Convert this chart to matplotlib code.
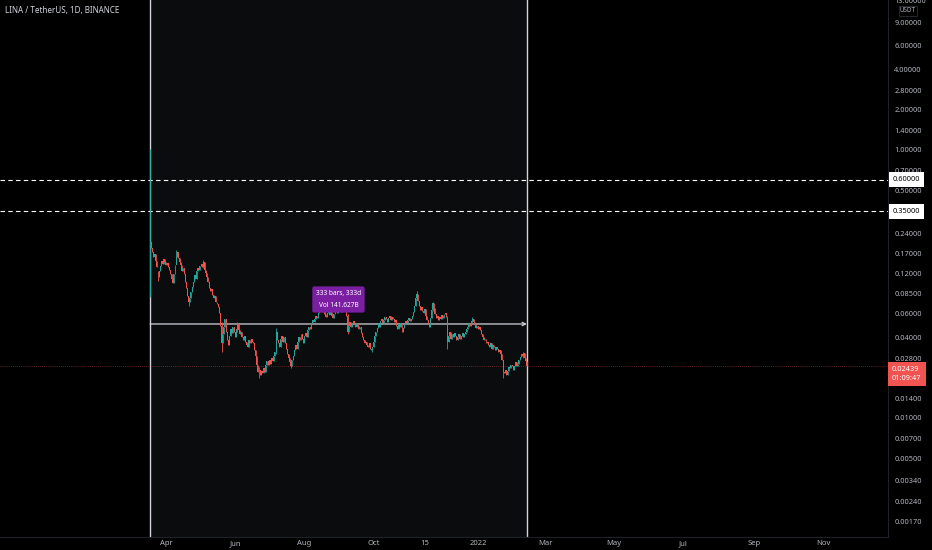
import matplotlib

matplotlib.use("Agg")
import matplotlib.dates as mdates
import matplotlib.pyplot as plt
import numpy as np
import pandas as pd

# daily closes, first bar on 2021-03-18
START = "2021-03-18"
FIRST_OPEN = 0.085
CLOSES = [
    0.205, 0.186, 0.172, 0.160, 0.166, 0.149, 0.134, 0.113, 0.124, 0.136,
    0.148, 0.141, 0.153, 0.146, 0.139, 0.144, 0.133, 0.127, 0.118, 0.109,
    0.101, 0.118, 0.139, 0.158, 0.172, 0.156, 0.145, 0.138, 0.126, 0.131,
    0.119, 0.104, 0.093, 0.081, 0.074, 0.079, 0.087, 0.095, 0.103, 0.116,
    0.109, 0.124, 0.131, 0.127, 0.136, 0.142, 0.134, 0.146, 0.128, 0.121,
    0.112, 0.103, 0.094, 0.088, 0.091, 0.083, 0.078, 0.082, 0.074, 0.071,
    0.067, 0.061, 0.049, 0.036, 0.042, 0.048, 0.055, 0.044, 0.038, 0.035,
    0.041, 0.046, 0.043, 0.048, 0.044, 0.040, 0.046, 0.050, 0.045, 0.042,
    0.044, 0.040, 0.038, 0.041, 0.037, 0.035, 0.034, 0.038, 0.036, 0.039,
    0.037, 0.036, 0.032, 0.029, 0.025, 0.022, 0.023, 0.021, 0.0225, 0.0215,
    0.0235, 0.022, 0.025, 0.0265, 0.025, 0.027, 0.0255, 0.028, 0.0265, 0.029,
    0.031, 0.044, 0.038, 0.036, 0.034, 0.039, 0.041, 0.037, 0.040, 0.036,
    0.033, 0.030, 0.028, 0.026, 0.0245, 0.027, 0.029, 0.032, 0.035, 0.033,
    0.037, 0.040, 0.038, 0.042, 0.039, 0.036, 0.041, 0.043, 0.040, 0.045,
    0.048, 0.046, 0.051, 0.054, 0.052, 0.055, 0.058, 0.056, 0.061, 0.064,
    0.066, 0.062, 0.067, 0.063, 0.060, 0.057, 0.061, 0.064, 0.059, 0.062,
    0.058, 0.056, 0.060, 0.063, 0.065, 0.061, 0.064, 0.066, 0.062, 0.065,
    0.067, 0.063, 0.065, 0.058, 0.044, 0.049, 0.052, 0.048, 0.051, 0.053,
    0.050, 0.048, 0.051, 0.049, 0.046, 0.048, 0.043, 0.040, 0.038, 0.036,
    0.037, 0.035, 0.034, 0.036, 0.033, 0.032, 0.034, 0.037, 0.041, 0.044,
    0.047, 0.050, 0.048, 0.053, 0.055, 0.051, 0.054, 0.057, 0.055, 0.052,
    0.056, 0.058, 0.054, 0.057, 0.055, 0.052, 0.054, 0.049, 0.046, 0.050,
    0.048, 0.051, 0.044, 0.047, 0.050, 0.053, 0.051, 0.054, 0.056, 0.053,
    0.055, 0.058, 0.062, 0.069, 0.078, 0.084, 0.075, 0.068, 0.064, 0.067,
    0.063, 0.061, 0.065, 0.058, 0.054, 0.050, 0.048, 0.056, 0.064, 0.072,
    0.066, 0.060, 0.056, 0.058, 0.054, 0.057, 0.055, 0.059, 0.056, 0.060,
    0.061, 0.057, 0.037, 0.041, 0.044, 0.039, 0.042, 0.040, 0.043, 0.041,
    0.038, 0.040, 0.042, 0.039, 0.041, 0.043, 0.040, 0.042, 0.044, 0.046,
    0.048, 0.051, 0.049, 0.053, 0.055, 0.052, 0.050, 0.047, 0.049, 0.046,
    0.048, 0.045, 0.042, 0.040, 0.038, 0.039, 0.036, 0.037, 0.035, 0.034,
    0.036, 0.033, 0.035, 0.034, 0.032, 0.034, 0.033, 0.031, 0.032, 0.030,
    0.027, 0.022, 0.0215, 0.023, 0.021, 0.0225, 0.024, 0.0235, 0.025, 0.0245,
    0.023, 0.0245, 0.026, 0.0245, 0.0255, 0.027, 0.0285, 0.030, 0.029, 0.0305,
    0.028, 0.0265, 0.02439,
]
# bar index -> (high, low) for the wicks that stick out
WICKS = {
    0: (1.02, 0.08), 7: (0.125, 0.106), 23: (0.178, 0.150), 34: (0.080, 0.069),
    47: (0.150, 0.131), 63: (0.052, 0.031), 77: (0.052, 0.044), 96: (0.024, 0.020),
    111: (0.047, 0.030), 124: (0.027, 0.0238), 153: (0.069, 0.060), 174: (0.060, 0.042),
    196: (0.034, 0.031), 235: (0.088, 0.076), 249: (0.074, 0.063), 262: (0.058, 0.033),
    284: (0.057, 0.051), 311: (0.026, 0.020), 329: (0.031, 0.028),
}

MEASURE_PRICE = 0.0503
VOLUME_LABEL = "141.627B"
LEVELS = [0.6, 0.35]
LAST_PRICE = 0.02439
COUNTDOWN = "01:09:47"
PRICE_TICKS = [13, 9, 6, 4, 2.8, 2, 1.4, 1, 0.7, 0.5, 0.24, 0.17, 0.12, 0.085, 0.06,
               0.04, 0.028, 0.014, 0.01, 0.007, 0.005, 0.0034, 0.0024, 0.0017]
TIME_TICKS = ["2021-04-01", "2021-06-01", "2021-08-01", "2021-10-01", "2021-11-15", "2022-01-01",
              "2022-03-01", "2022-05-01", "2022-07-01", "2022-09-01", "2022-11-01"]
TIME_LABELS = ["Apr", "Jun", "Aug", "Oct", "15", "2022", "Mar", "May", "Jul", "Sep", "Nov"]

UP, DOWN = "#26a69a", "#ef5350"
TEXT = "#b2b5be"

plt.rcParams["font.family"] = ["Noto Sans", "DejaVu Sans"]

dates = pd.date_range(START, periods=len(CLOSES), freq="D")
x = mdates.date2num(dates)
closes = np.array(CLOSES)
opens = np.concatenate([[FIRST_OPEN], closes[:-1]])
highs = np.maximum(opens, closes)
lows = np.minimum(opens, closes)
for i, (h, l) in WICKS.items():
    highs[i], lows[i] = h, l
colors = np.where(closes >= opens, UP, DOWN)

fig = plt.figure(figsize=(9.32, 5.50), dpi=100, facecolor="black")
ax = fig.add_axes([0, 13 / 550, 888 / 932, 537 / 550])
ax.set_facecolor("black")
ax.set_yscale("log")

x0, x1 = x[0], x[-1]
ax.axvspan(x0, x1, color="#0b0c0e", lw=0, zorder=0)

ax.axvline(x0, color="#d1d4dc", lw=1.0, zorder=2)
ax.axvline(x1, color="#d1d4dc", lw=1.0, zorder=2)

ax.vlines(x, lows, highs, colors=colors, lw=0.6, zorder=4)
ax.bar(x, closes - opens, bottom=opens, width=0.85, color=colors, lw=0, zorder=4)

for lvl in LEVELS:
    ax.axhline(lvl, color="white", ls=(0, (4, 3)), lw=0.8, zorder=3)
ax.axhline(LAST_PRICE, color=DOWN, ls=(0, (1, 2)), lw=0.5, alpha=0.75, zorder=3)

ax.annotate("", xy=(x1, MEASURE_PRICE), xytext=(x0, MEASURE_PRICE),
            arrowprops=dict(arrowstyle="->", color="#d1d4dc", lw=0.9, shrinkA=0, shrinkB=0,
                            mutation_scale=6), zorder=3)
ax.text((x0 + x1) / 2, 0.0766, f"{len(CLOSES)} bars, {len(CLOSES)}d\nVol {VOLUME_LABEL}",
        ha="center", va="center", fontsize=4.7, color="white", linespacing=2.0, zorder=5,
        bbox=dict(boxstyle="round,pad=0.55,rounding_size=0.3", fc="#7b1fa2", ec="none"))

ax.set_xlim(x0 - 132.2, x0 + 650.2)
ax.set_ylim(0.001294, 13.16)

ax.yaxis.tick_right()
ax.set_yticks(PRICE_TICKS)
ax.set_yticklabels([f"{v:.5f}" for v in PRICE_TICKS])
ax.yaxis.set_minor_locator(matplotlib.ticker.NullLocator())
ax.tick_params(axis="y", length=0, pad=4.5, labelsize=5.3, labelcolor=TEXT)
ax.set_xticks(mdates.date2num(pd.to_datetime(TIME_TICKS)))
ax.set_xticklabels(TIME_LABELS)
ax.tick_params(axis="x", length=0, pad=2, labelsize=5.5, labelcolor=TEXT)

for side in ["top", "left"]:
    ax.spines[side].set_visible(False)
for side in ["right", "bottom"]:
    ax.spines[side].set_color("#1e2128")
    ax.spines[side].set_linewidth(0.8)

ytr = ax.get_yaxis_transform()
for lvl in LEVELS:
    ax.text(1.0055, lvl, f"{lvl:.5f}", transform=ytr, ha="left", va="center", fontsize=5.3,
            color="black", zorder=6, clip_on=False,
            bbox=dict(boxstyle="square,pad=0.55", fc="white", ec="none"))
ax.text(1.0045, LAST_PRICE, f"{LAST_PRICE:.5f}\n{COUNTDOWN}", transform=ytr, ha="left",
        va="top", fontsize=5.3, color="white", linespacing=1.3, zorder=6, clip_on=False,
        bbox=dict(boxstyle="square,pad=0.55", fc="#f05350", ec="none"))

fig.text(908 / 932, 1 - 11 / 550, "USDT", ha="center", va="center", fontsize=4.5, color=TEXT,
         bbox=dict(boxstyle="square,pad=0.2", fc="black", ec="#2a2e39", lw=0.6))
fig.text(5 / 932, 1 - 11 / 550, "LINA / TetherUS, 1D, BINANCE", ha="left", va="center",
         fontsize=5.8, color="#d1d4dc")

fig.savefig("out.png", dpi=100, facecolor="black")
